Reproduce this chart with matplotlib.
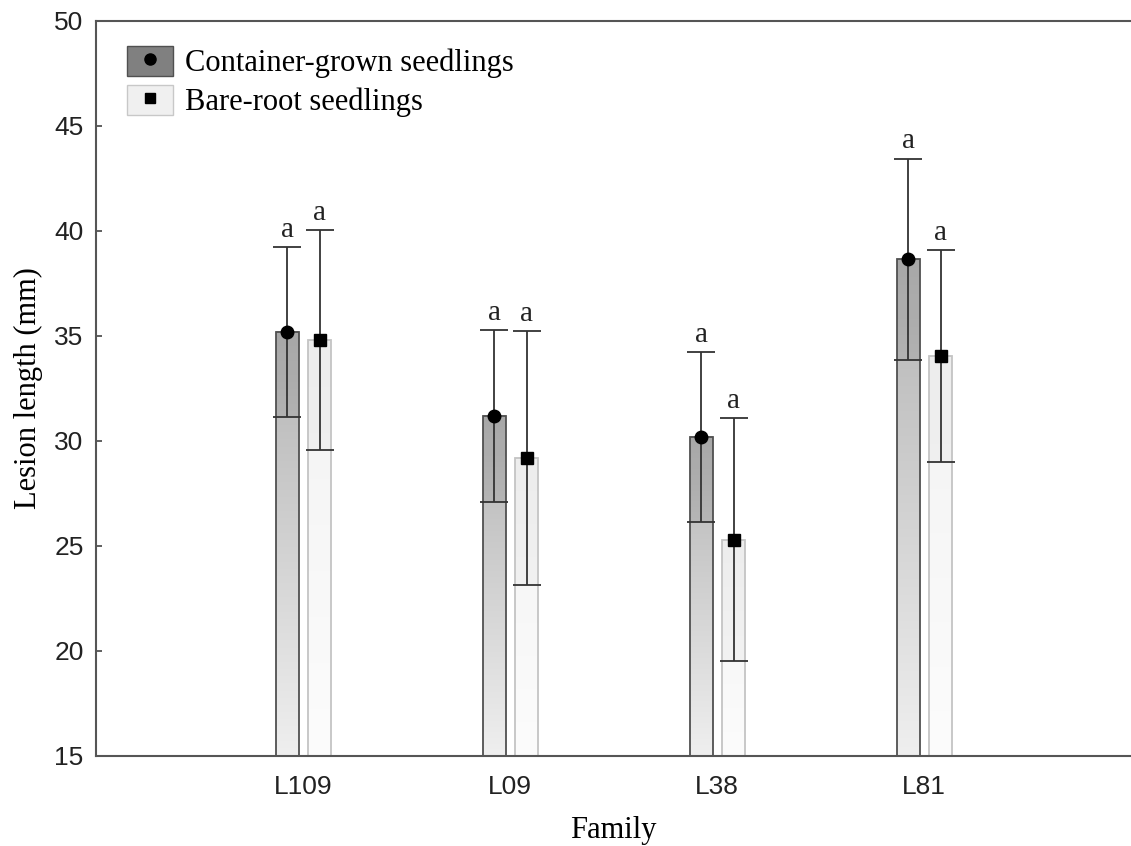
import numpy as np
import matplotlib
matplotlib.use("Agg")
import matplotlib.pyplot as plt
from matplotlib.colors import LinearSegmentedColormap
from matplotlib.patches import Patch, Rectangle
from matplotlib.lines import Line2D
from matplotlib.legend_handler import HandlerTuple

# ── data ────────────────────────────────────────────────────────────────────
families = ["L109", "L09", "L38", "L81"]
container_mean = [35.2, 31.2, 30.2, 38.65]
container_se = [4.05, 4.1, 4.05, 4.8]
bareroot_mean = [34.8, 29.2, 25.3, 34.05]
bareroot_se = [5.25, 6.05, 5.8, 5.05]
container_letters = ["a", "a", "a", "a"]
bareroot_letters = ["a", "a", "a", "a"]

SERIF = ["Liberation Serif", "DejaVu Serif"]
SANS = ["Liberation Sans", "DejaVu Sans"]
YMIN, YMAX = 15, 50
WIDTH = 0.11
OFFSET = 0.075

fig = plt.figure(figsize=(11.31, 8.46), dpi=100)
ax = fig.add_axes([0.0849, 0.1064, 0.9151, 0.8688])

cmap_cont = LinearSegmentedColormap.from_list("cont", ["#efefef", "#b4b4b4"])
cmap_bare = LinearSegmentedColormap.from_list("bare", ["#fcfcfc", "#f3f3f3"])
grad = np.linspace(0, 1, 256).reshape(-1, 1)


def gradient_bars(xs, means, ses, cmap, edge, shade, marker, ms):
    for x, m, se in zip(xs, means, ses):
        ax.imshow(grad, extent=[x - WIDTH / 2, x + WIDTH / 2, YMIN, m],
                  origin="lower", aspect="auto", cmap=cmap, zorder=1)
        # slightly darker band between lower error limit and the mean
        ax.add_patch(Rectangle((x - WIDTH / 2, m - se), WIDTH, se,
                               facecolor="black", alpha=shade,
                               edgecolor="none", zorder=1.5))
        ax.add_patch(Rectangle((x - WIDTH / 2, YMIN), WIDTH, m - YMIN,
                               facecolor="none", edgecolor=edge, lw=1.3,
                               zorder=2))
    ax.errorbar(xs, means, yerr=ses, fmt=marker, color="black", ms=ms,
                ecolor="#333333", elinewidth=1.3, capsize=10, capthick=1.3,
                zorder=3)


x = np.arange(1, len(families) + 1)
xc = x - OFFSET
xb = x + OFFSET + 0.005
gradient_bars(xc, container_mean, container_se, cmap_cont, "#505050", 0.07, "o", 9)
gradient_bars(xb, bareroot_mean, bareroot_se, cmap_bare, "#c4c4c4", 0.025, "s", 8.5)

# significance letters above the error bars
for xs, means, ses, letters in [(xc, container_mean, container_se, container_letters),
                                (xb, bareroot_mean, bareroot_se, bareroot_letters)]:
    for xi, m, se, lt in zip(xs, means, ses, letters):
        ax.annotate(lt, (xi, m + se), xytext=(0, 3), textcoords="offset points",
                    ha="center", va="bottom", fontsize=21, family=SERIF,
                    color="#222222")

ax.set_xlim(0, 5)
ax.set_ylim(YMIN, YMAX)
ax.set_xticks(x)
ax.set_xticklabels(families, family=SANS, fontsize=19)
ax.set_yticks(np.arange(15, 51, 5))
ax.set_yticklabels([str(v) for v in range(15, 51, 5)], family=SANS, fontsize=19)
ax.tick_params(axis="x", length=0, pad=14, colors="#222222")
ax.tick_params(axis="y", direction="in", length=4, width=1.2, color="#444444",
               pad=9, labelcolor="#222222")
for side in ["left", "bottom", "top"]:
    ax.spines[side].set_color("#555555")
    ax.spines[side].set_linewidth(1.5)
ax.spines["right"].set_visible(False)

ax.set_ylabel("Lesion length (mm)", family=SERIF, fontsize=22, labelpad=8)
ax.set_xlabel("Family", family=SERIF, fontsize=22, labelpad=12)

handles = [
    (Patch(facecolor="#808080", edgecolor="#505050"),
     Line2D([], [], marker="o", ls="none", color="black", ms=8)),
    (Patch(facecolor="#f0f0f0", edgecolor="#c8c8c8"),
     Line2D([], [], marker="s", ls="none", color="black", ms=7)),
]
ax.legend(handles, ["Container-grown seedlings", "Bare-root seedlings"],
          handler_map={tuple: HandlerTuple(ndivide=1, pad=0)},
          loc="upper left", bbox_to_anchor=(0.018, 0.982), frameon=False,
          prop={"family": SERIF, "size": 22}, handlelength=1.5,
          handleheight=1.1, handletextpad=0.4, labelspacing=0.22,
          borderaxespad=0)

fig.savefig("out.png", dpi=100)
